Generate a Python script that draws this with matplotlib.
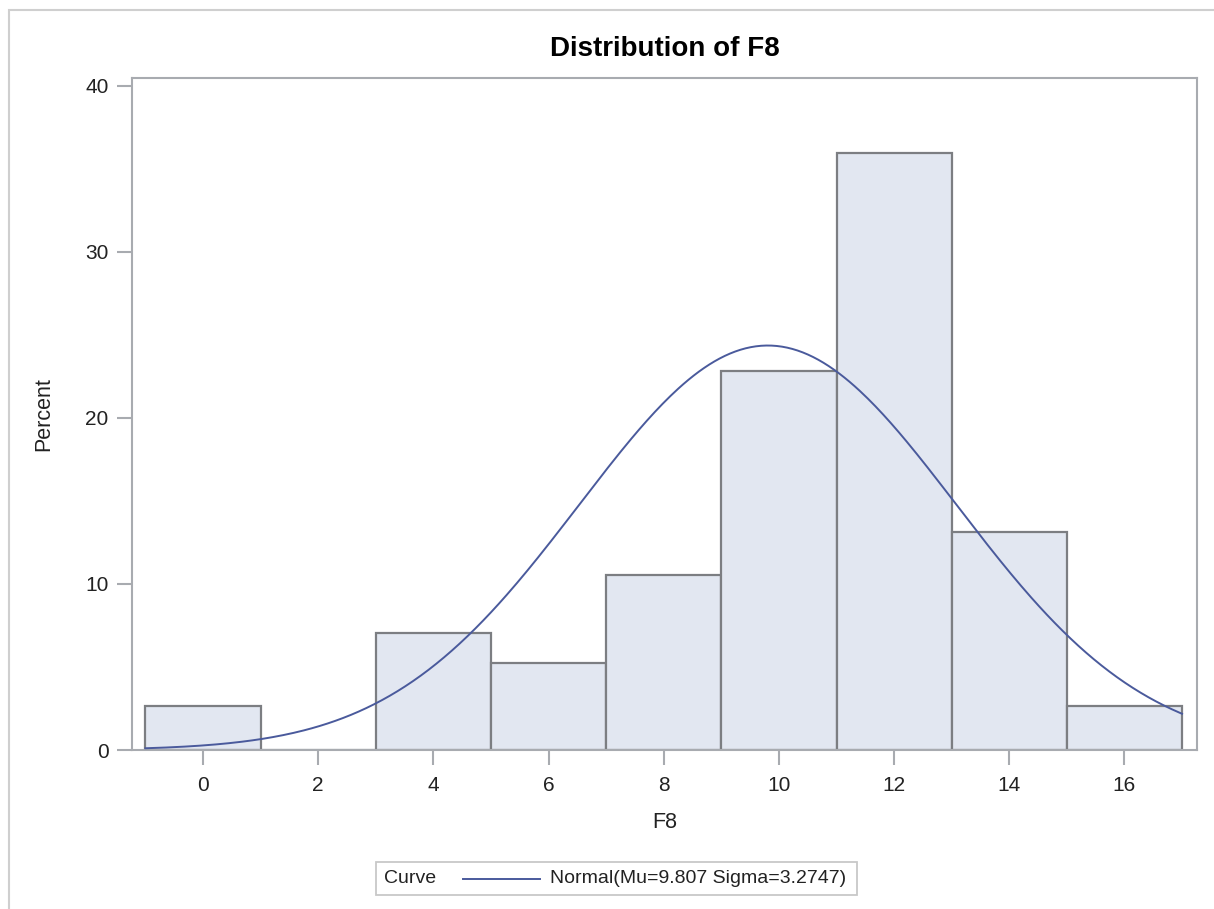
import numpy as np
import matplotlib
matplotlib.use("Agg")
import matplotlib.pyplot as plt
from matplotlib.patches import Rectangle
from matplotlib.lines import Line2D

plt.rcParams['font.family'] = ['Liberation Sans', 'DejaVu Sans']

# histogram data (bin midpoints, percent)
bin_mid = [0, 2, 4, 6, 8, 10, 12, 14, 16]
percent = [2.63, 0.0, 7.02, 5.26, 10.53, 22.81, 35.96, 13.16, 2.63]
bin_width = 2
mu = 9.807
sigma = 3.2747
xticks = [0, 2, 4, 6, 8, 10, 12, 14, 16]
yticks = [0, 10, 20, 30, 40]

bar_fill = '#e2e7f1'
bar_edge = '#7c7e82'
curve_col = '#4a5a9c'
axis_col = '#a8abb0'

fig = plt.figure(figsize=(12.14, 9.09), dpi=100)
W, H = 1214, 909
ax = fig.add_axes([132 / W, 1 - 750 / H, (1197 - 132) / W, (750 - 78) / H])

ax.bar(bin_mid, percent, width=bin_width, color=bar_fill, edgecolor=bar_edge,
       linewidth=1.6, zorder=2)

xs = np.linspace(bin_mid[0] - bin_width / 2, bin_mid[-1] + bin_width / 2, 400)
ys = 100 * bin_width * np.exp(-0.5 * ((xs - mu) / sigma) ** 2) / (sigma * np.sqrt(2 * np.pi))
ax.plot(xs, ys, color=curve_col, linewidth=1.4, zorder=3)

ax.set_xlim(-1.234, 17.26)
ax.set_ylim(0, 40.48)
ax.set_xticks(xticks)
ax.set_yticks(yticks)
for s in ax.spines.values():
    s.set_color(axis_col)
    s.set_linewidth(1.5)
ax.tick_params(axis='both', colors=axis_col, width=1.5, length=11,
               labelcolor='#222222', labelsize=15)
ax.tick_params(axis='x', pad=8)
ax.tick_params(axis='y', pad=6)

ax.set_xlabel('F8', fontsize=15.5, labelpad=12, color='#222222')
ax.set_ylabel('Percent', fontsize=15.5, labelpad=22, color='#222222')
ax.set_title('Distribution of F8', fontsize=20, fontweight='bold', pad=16)

# outer frame
fig.patches.append(Rectangle((9 / W, -0.1), 1.2, 1 - 10 / H + 0.1,
                             transform=fig.transFigure, fill=False,
                             edgecolor='#cfcfcf', linewidth=1.5))

# legend box
lx0, lx1, ly0, ly1 = 376, 857, 862, 895
fig.patches.append(Rectangle((lx0 / W, 1 - ly1 / H), (lx1 - lx0) / W, (ly1 - ly0) / H,
                             transform=fig.transFigure, fill=False,
                             edgecolor='#c8c8c8', linewidth=1.3))
ymid = 1 - (ly0 + ly1) / 2 / H
fig.text(384 / W, ymid, 'Curve', fontsize=14, va='center', ha='left', color='#222222')
fig.lines.append(Line2D([463 / W, 540 / W], [ymid, ymid], transform=fig.transFigure,
                        color=curve_col, linewidth=1.4))
fig.text(550 / W, ymid, f'Normal(Mu={mu} Sigma={sigma})', fontsize=14,
         va='center', ha='left', color='#222222')

fig.savefig('out.png', dpi=100)
